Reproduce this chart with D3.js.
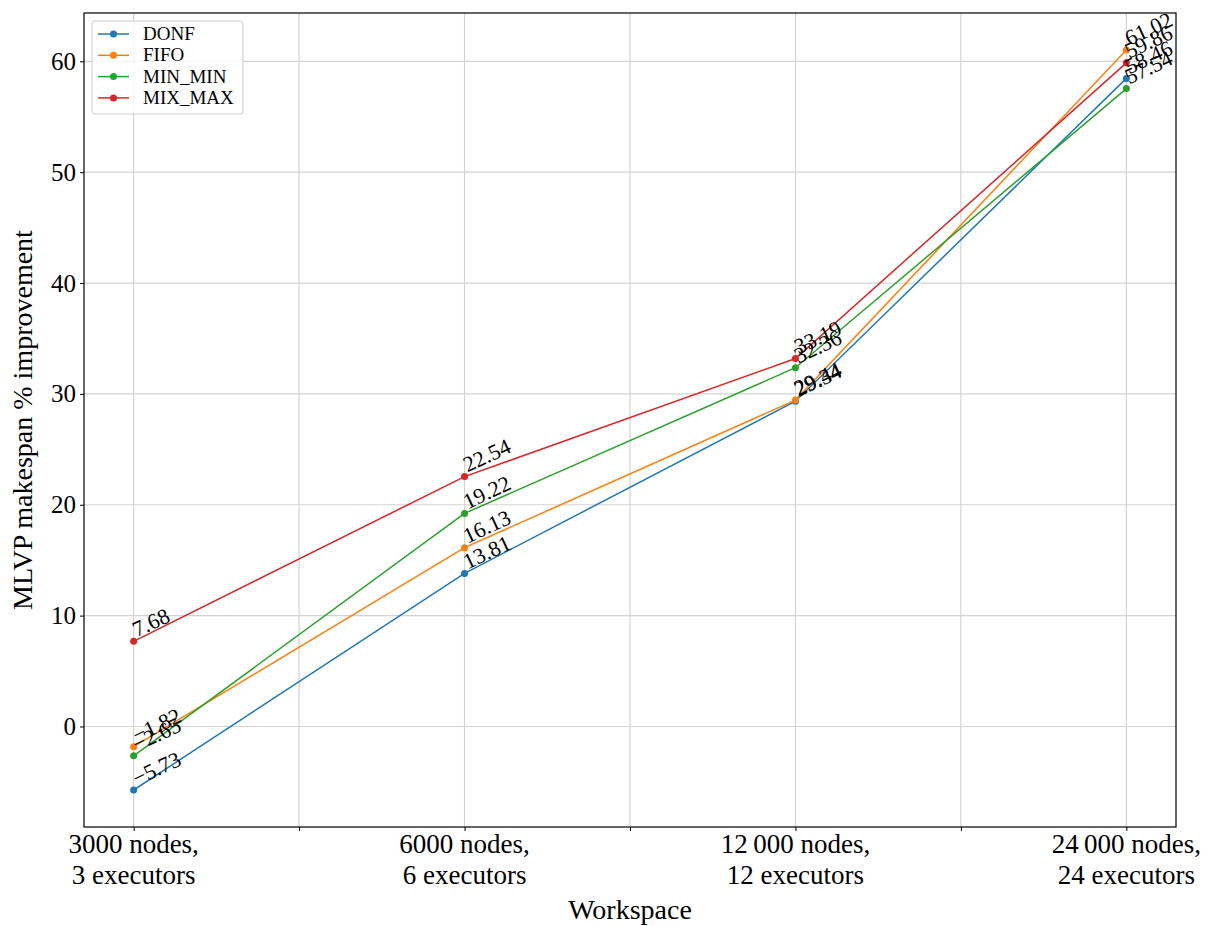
<!DOCTYPE html>
<html>
<head>
<meta charset="utf-8">
<script src="https://cdn.jsdelivr.net/npm/d3@7"></script>
<style>
  body { margin: 0; background: #fff; }
  svg text { font-family: "Liberation Serif", "DejaVu Serif", serif; fill: #000; }
</style>
</head>
<body>
<script>
// chart data
var workspaces = [
    ["3000 nodes,", "3 executors"],
    ["6000 nodes,", "6 executors"],
    ["12\u2009000 nodes,", "12 executors"],
    ["24\u2009000 nodes,", "24 executors"]
];
var donf = [-5.73, 13.81, 29.34, 58.46];
var fifo = [-1.82, 16.13, 29.44, 61.02];
var minMin = [-2.65, 19.22, 32.36, 57.54];
var mixMax = [7.68, 22.54, 33.19, 59.86];
var seriesNames = ["DONF", "FIFO", "MIN_MIN", "MIX_MAX"];
var seriesColors = ["#1f77b4", "#ff7f0e", "#2ca02c", "#d62728"];
var yTicks = [0, 10, 20, 30, 40, 50, 60];

window.onload = function(){
    var w = 1213, h = 926;
    var left = 84, right = 1176, top = 13, bottom = 827;
    var serif = "'Liberation Serif', 'DejaVu Serif', serif";

    var svg = d3.select("body")
        .append("svg")
        .attr("width", w)
        .attr("height", h);

    var allSeries = [donf, fifo, minMin, mixMax];
    var allVals = d3.merge(allSeries);
    var yMin = d3.min(allVals), yMax = d3.max(allVals);
    var pad = (yMax - yMin) * 0.05;

    var x = d3.scaleLinear()
        .domain([-0.15, workspaces.length - 1 + 0.15])
        .range([left, right]);

    var y = d3.scaleLinear()
        .domain([yMin - pad, yMax + pad])
        .range([bottom, top]);

    // x ticks at every half step, labels only on whole ones
    var xTicks = d3.range(0, workspaces.length - 0.5 + 0.01, 0.5);

    //grid
    var grid = svg.append("g").attr("class", "grid");
    grid.selectAll(".vgrid")
        .data(xTicks)
        .enter()
        .append("line")
        .attr("x1", function(d){ return x(d); })
        .attr("x2", function(d){ return x(d); })
        .attr("y1", top)
        .attr("y2", bottom)
        .style("stroke", "#d3d3d3")
        .style("stroke-width", 1.2);
    grid.selectAll(".hgrid")
        .data(yTicks)
        .enter()
        .append("line")
        .attr("x1", left)
        .attr("x2", right)
        .attr("y1", function(d){ return y(d); })
        .attr("y2", function(d){ return y(d); })
        .style("stroke", "#d3d3d3")
        .style("stroke-width", 1.2);

    //axes
    var xAxis = d3.axisBottom(x)
        .tickValues(xTicks)
        .tickSize(4)
        .tickFormat("");
    var xg = svg.append("g")
        .attr("class", "axis")
        .attr("transform", "translate(0," + bottom + ")")
        .call(xAxis);
    xg.select(".domain").remove();
    xg.selectAll("line").style("stroke", "#000").style("stroke-width", 1);

    var yAxis = d3.axisLeft(y)
        .tickValues(yTicks)
        .tickSize(4)
        .tickPadding(4)
        .tickFormat(d3.format("d"));
    var yg = svg.append("g")
        .attr("class", "axis")
        .attr("transform", "translate(" + left + ",0)")
        .call(yAxis);
    yg.select(".domain").remove();
    yg.selectAll("line").style("stroke", "#000").style("stroke-width", 1);
    yg.selectAll("text")
        .style("font-family", serif)
        .style("font-size", "25px");

    //x tick labels, two lines each
    var xl = svg.selectAll(".xlabel")
        .data(workspaces)
        .enter()
        .append("text")
        .attr("class", "xlabel")
        .attr("text-anchor", "middle")
        .style("font-family", serif)
        .style("font-size", "27px");
    xl.append("tspan")
        .attr("x", function(d, i){ return x(i); })
        .attr("y", 853)
        .text(function(d){ return d[0]; });
    xl.append("tspan")
        .attr("x", function(d, i){ return x(i); })
        .attr("y", 884)
        .text(function(d){ return d[1]; });

    //lines, markers and value labels
    var line = d3.line()
        .x(function(d, i){ return x(i); })
        .y(function(d){ return y(d); });

    var fmt = function(v){ return d3.format(".2f")(v).replace("-", "\u2212"); };

    allSeries.forEach(function(vals, s){
        var g = svg.append("g").attr("class", "series");
        g.append("path")
            .datum(vals)
            .attr("d", line)
            .style("fill", "none")
            .style("stroke", seriesColors[s])
            .style("stroke-width", 1.5);
        g.selectAll("circle")
            .data(vals)
            .enter()
            .append("circle")
            .attr("cx", function(d, i){ return x(i); })
            .attr("cy", function(d){ return y(d); })
            .attr("r", 3.5)
            .style("fill", seriesColors[s]);
    });

    allSeries.forEach(function(vals, s){
        svg.append("g").selectAll("text")
            .data(vals)
            .enter()
            .append("text")
            .attr("transform", function(d, i){
                return "translate(" + (x(i) + 3) + "," + (y(d) - 4) + ") rotate(-25)";
            })
            .style("font-family", serif)
            .style("font-size", "22px")
            .text(function(d){ return fmt(d); });
    });

    //frame
    svg.append("rect")
        .attr("x", left)
        .attr("y", top)
        .attr("width", right - left)
        .attr("height", bottom - top)
        .style("fill", "none")
        .style("stroke", "#000")
        .style("stroke-width", 1.2);

    //legend
    var legend = svg.append("g").attr("class", "legend");
    legend.append("rect")
        .attr("x", 92)
        .attr("y", 21)
        .attr("width", 151)
        .attr("height", 93)
        .attr("rx", 3)
        .style("fill", "rgba(255,255,255,0.8)")
        .style("stroke", "#cccccc")
        .style("stroke-width", 1);
    var items = legend.selectAll(".item")
        .data(seriesNames)
        .enter()
        .append("g")
        .attr("transform", function(d, i){ return "translate(0," + (34 + i * 21.3) + ")"; });
    items.append("line")
        .attr("x1", 98)
        .attr("x2", 129)
        .style("stroke", function(d, i){ return seriesColors[i]; })
        .style("stroke-width", 1.5);
    items.append("circle")
        .attr("cx", 113.5)
        .attr("r", 3.5)
        .style("fill", function(d, i){ return seriesColors[i]; });
    items.append("text")
        .attr("x", 143)
        .attr("y", 6)
        .style("font-family", serif)
        .style("font-size", "19px")
        .text(function(d){ return d; });

    //axis titles
    svg.append("text")
        .attr("text-anchor", "middle")
        .attr("x", (left + right) / 2)
        .attr("y", 919)
        .style("font-family", serif)
        .style("font-size", "28px")
        .text("Workspace");

    svg.append("text")
        .attr("text-anchor", "middle")
        .attr("transform", "translate(32," + ((top + bottom) / 2) + ") rotate(-90)")
        .style("font-family", serif)
        .style("font-size", "28px")
        .text("MLVP makespan % improvement");
};
</script>
</body>
</html>
